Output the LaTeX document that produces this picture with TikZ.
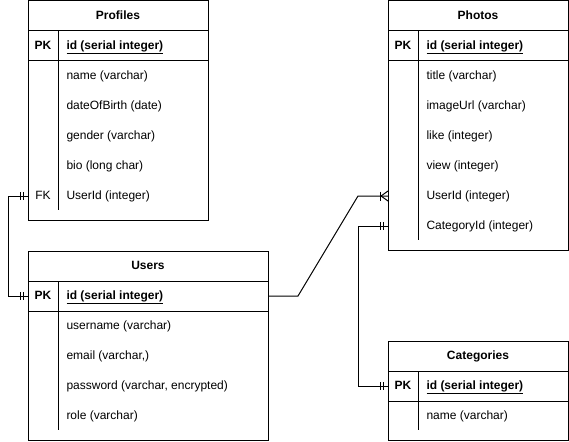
\documentclass[tikz,border=0pt]{standalone}
\usepackage{fontspec}
\setmainfont{Liberation Sans}
\newcommand\ertable[5]{%
  \node[tbl, minimum width=#4, minimum height=#5] (#1) at (#2,#3) {};
  \draw ([yshift=-30pt]#1.north west) -- ([yshift=-30pt]#1.north east);
  \draw ([yshift=-60pt]#1.north west) -- ([yshift=-60pt]#1.north east);
  \draw ([shift={(30pt,-30pt)}]#1.north west) -- ([shift={(30pt,10pt)}]#1.south west);
}
\begin{document}
\begin{tikzpicture}[x=1pt,y=-1pt,line width=1pt,
  tbl/.style={draw, anchor=north west, inner sep=0pt, outer sep=0pt},
  ttl/.style={font=\bfseries\fontsize{12}{14}\selectfont, inner sep=0pt, text height=8.6pt, text depth=2.5pt},
  keyc/.style={font=\bfseries\fontsize{12}{14}\selectfont, inner sep=0pt, text height=8.6pt, text depth=2.5pt},
  fld/.style={font=\fontsize{12}{14}\selectfont, anchor=west, inner sep=0pt, text height=8.6pt, text depth=2.5pt},
  idf/.style={fld, font=\bfseries\fontsize{12}{14}\selectfont},
  twobar/.pic={\draw[line width=1pt] (-8,-4) -- (-8,4) (-5,-4) -- (-5,4);},
  crowbar/.pic={\draw[line width=1pt] (-8,-4.5) -- (-8,4.5); \draw[line width=1pt] (0,-5) -- (-7,0) -- (0,5);}
]
\useasboundingbox (0,0) rectangle (569,441);

% Profiles
\ertable{profiles}{28}{1}{180}{219}
\node[ttl] (profiles-title) at ([yshift=-15pt]profiles.north) {Profiles};
\node[keyc] (profiles-pk) at (43,46) {PK};
\node[idf] (profiles-id) at (66,46) {\underline{id (serial integer)}};
\node[fld] (profiles-name) at (66,76) {name (varchar)};
\node[fld] (profiles-dob) at (66,106) {dateOfBirth (date)};
\node[fld] (profiles-gender) at (66,136) {gender (varchar)};
\node[fld] (profiles-bio) at (66,166) {bio (long char)};
\node[keyc, font=\fontsize{12}{14}\selectfont] (profiles-fk) at (43,196) {FK};
\node[fld] (profiles-uid) at (66,196) {UserId (integer)};

% Photos
\ertable{photos}{388}{1}{180}{249}
\node[ttl] (photos-title) at ([yshift=-15pt]photos.north) {Photos};
\node[keyc] (photos-pk) at (403,46) {PK};
\node[idf] (photos-id) at (426,46) {\underline{id (serial integer)}};
\node[fld] (photos-titlef) at (426,76) {title (varchar)};
\node[fld] (photos-url) at (426,106) {imageUrl (varchar)};
\node[fld] (photos-like) at (426,136) {like (integer)};
\node[fld] (photos-view) at (426,166) {view (integer)};
\node[fld] (photos-uid) at (426,196) {UserId (integer)};
\node[fld] (photos-cid) at (426,226) {CategoryId (integer)};

% Users
\ertable{users}{28}{251}{240}{189}
\node[ttl] (users-title) at ([yshift=-15pt]users.north) {Users};
\node[keyc] (users-pk) at (43,296) {PK};
\node[idf] (users-id) at (66,296) {\underline{id (serial integer)}};
\node[fld] (users-name) at (66,326) {username (varchar)};
\node[fld] (users-email) at (66,356) {email (varchar,)};
\node[fld] (users-pw) at (66,386) {password (varchar, encrypted)};
\node[fld] (users-role) at (66,416) {role (varchar)};

% Categories
\ertable{categories}{388}{341}{180}{99}
\node[ttl] (categories-title) at ([yshift=-15pt]categories.north) {Categories};
\node[keyc] (categories-pk) at (403,386) {PK};
\node[idf] (categories-id) at (426,386) {\underline{id (serial integer)}};
\node[fld] (categories-name) at (426,416) {name (varchar)};

% connector end points
\coordinate (e-pfk) at (profiles.west |- profiles-fk);
\coordinate (e-upk) at (users.west |- users-pk);
\coordinate (e-upkr) at (users.east |- users-pk);
\coordinate (e-phuid) at (photos.west |- photos-uid);
\coordinate (e-phcid) at (photos.west |- photos-cid);
\coordinate (e-cpk) at (categories.west |- categories-pk);

% Profiles.UserId -- Users.id
\draw (e-pfk) -- ++(-20,0) |- (e-upk);
\pic at (e-pfk) {twobar};
\pic at (e-upk) {twobar};

% Users.id -- Photos.UserId
\draw (e-upkr) -- ++(30,0) -- ([xshift=-30pt]e-phuid) -- (e-phuid);
\pic at (e-phuid) {crowbar};

% Photos.CategoryId -- Categories.id
\draw (e-phcid) -- ++(-30,0) |- (e-cpk);
\pic at (e-phcid) {twobar};
\pic at (e-cpk) {twobar};
\end{tikzpicture}
\end{document}
